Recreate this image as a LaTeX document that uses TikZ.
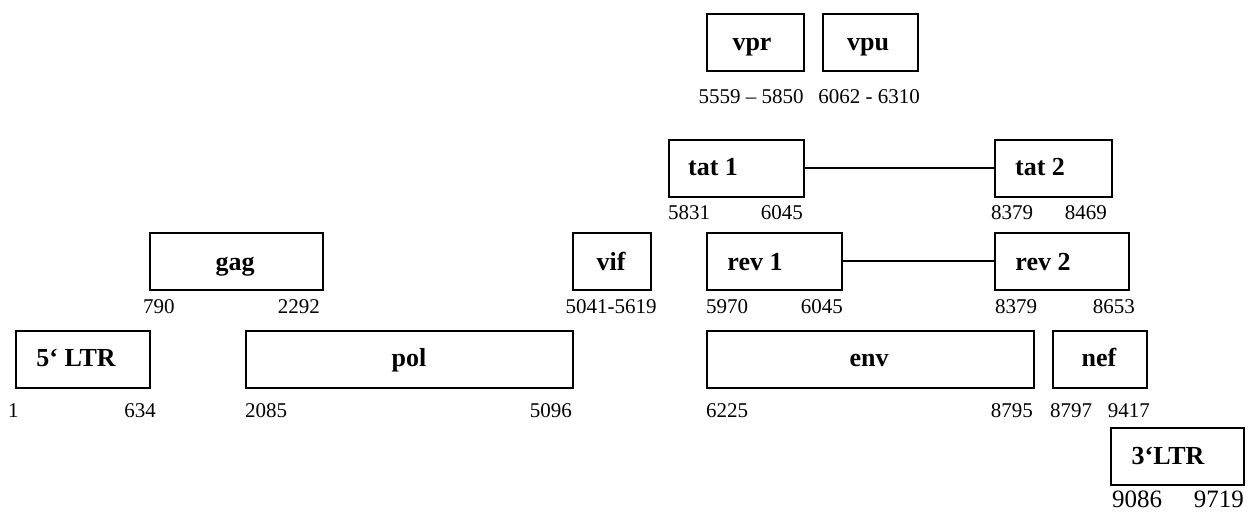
\documentclass[tikz,border=0pt]{standalone}
\usepackage{fontspec}
\setmainfont{Liberation Serif}
\begin{document}
\begin{tikzpicture}[x=1pt,y=-1pt,
  gene/.style={draw,line width=1.6pt,inner sep=0pt,anchor=north west,minimum height=57pt},
  genename/.style={inner sep=0pt,anchor=base,font=\fontsize{26}{30}\selectfont\bfseries},
  coord/.style={inner sep=0pt,font=\fontsize{21}{25}\selectfont},
  bigcoord/.style={inner sep=0pt,font=\fontsize{25}{30}\selectfont},
  splice/.style={line width=1.7pt}]
\useasboundingbox (0,0) rectangle (1253,513);

% accessory genes, top row
\node[gene,minimum width=97pt] (vpr) at (706,13) {};
\node[genename] (vpr-t) at (752,51) {vpr};
\node[coord,anchor=base] (vpr-p) at (751,104) {5559 -- 5850};
\node[gene,minimum width=95pt] (vpu) at (822,13) {};
\node[genename] (vpu-t) at (868,51) {vpu};
\node[coord,anchor=base] (vpu-p) at (869,104) {6062 - 6310};

% tat exons
\node[gene,minimum width=135pt] (tat1) at (668,139) {};
\node[genename] (tat1-t) at (713,176) {tat 1};
\node[coord,anchor=base west] (tat1-a) at (668,220) {5831};
\node[coord,anchor=base east] (tat1-b) at (803,220) {6045};
\node[gene,minimum width=117pt] (tat2) at (994,139) {};
\node[genename] (tat2-t) at (1040,176) {tat 2};
\node[coord,anchor=base west] (tat2-a) at (991,220) {8379};
\node[coord,anchor=base east] (tat2-b) at (1107,220) {8469};
\draw[splice] (tat1.east) -- (tat2.west);

% gag, vif and rev exons
\node[gene,minimum width=173pt] (gag) at (149,232) {};
\node[genename] (gag-t) at (235,270) {gag};
\node[coord,anchor=base west] (gag-a) at (143,313) {790};
\node[coord,anchor=base east] (gag-b) at (320,313) {2292};
\node[gene,minimum width=78pt] (vif) at (572,232) {};
\node[genename] (vif-t) at (611,270) {vif};
\node[coord,anchor=base] (vif-p) at (611,313) {5041-5619};
\node[gene,minimum width=135pt] (rev1) at (706,232) {};
\node[genename] (rev1-t) at (755,270) {rev 1};
\node[coord,anchor=base west] (rev1-a) at (706,313) {5970};
\node[coord,anchor=base east] (rev1-b) at (843,313) {6045};
\node[gene,minimum width=134pt] (rev2) at (994,232) {};
\node[genename] (rev2-t) at (1043,270) {rev 2};
\node[coord,anchor=base west] (rev2-a) at (995,313) {8379};
\node[coord,anchor=base east] (rev2-b) at (1135,313) {8653};
\draw[splice] (rev1.east) -- (rev2.west);

% LTR, pol, env, nef
\node[gene,minimum width=134pt] (ltr5) at (15,330) {};
\node[genename] (ltr5-t) at (76,366) {5‘ LTR};
\node[coord,anchor=base west] (ltr5-a) at (8,417) {1};
\node[coord,anchor=base east] (ltr5-b) at (156,417) {634};
\node[gene,minimum width=327pt] (pol) at (245,330) {};
\node[genename] (pol-t) at (409,366) {pol};
\node[coord,anchor=base west] (pol-a) at (245,417) {2085};
\node[coord,anchor=base east] (pol-b) at (572,417) {5096};
\node[gene,minimum width=327pt] (env) at (706,330) {};
\node[genename] (env-t) at (869,366) {env};
\node[coord,anchor=base west] (env-a) at (706,417) {6225};
\node[coord,anchor=base east] (env-b) at (1033,417) {8795};
\node[gene,minimum width=94pt] (nef) at (1052,330) {};
\node[genename] (nef-t) at (1099,366) {nef};
\node[coord,anchor=base west] (nef-a) at (1050,417) {8797};
\node[coord,anchor=base east] (nef-b) at (1150,417) {9417};

% 3' LTR
\node[gene,minimum width=133pt] (ltr3) at (1110,427) {};
\node[genename] (ltr3-t) at (1168,464) {3‘LTR};
\node[bigcoord,anchor=base west] (ltr3-a) at (1112,507) {9086};
\node[bigcoord,anchor=base east] (ltr3-b) at (1244,507) {9719};
\end{tikzpicture}
\end{document}
